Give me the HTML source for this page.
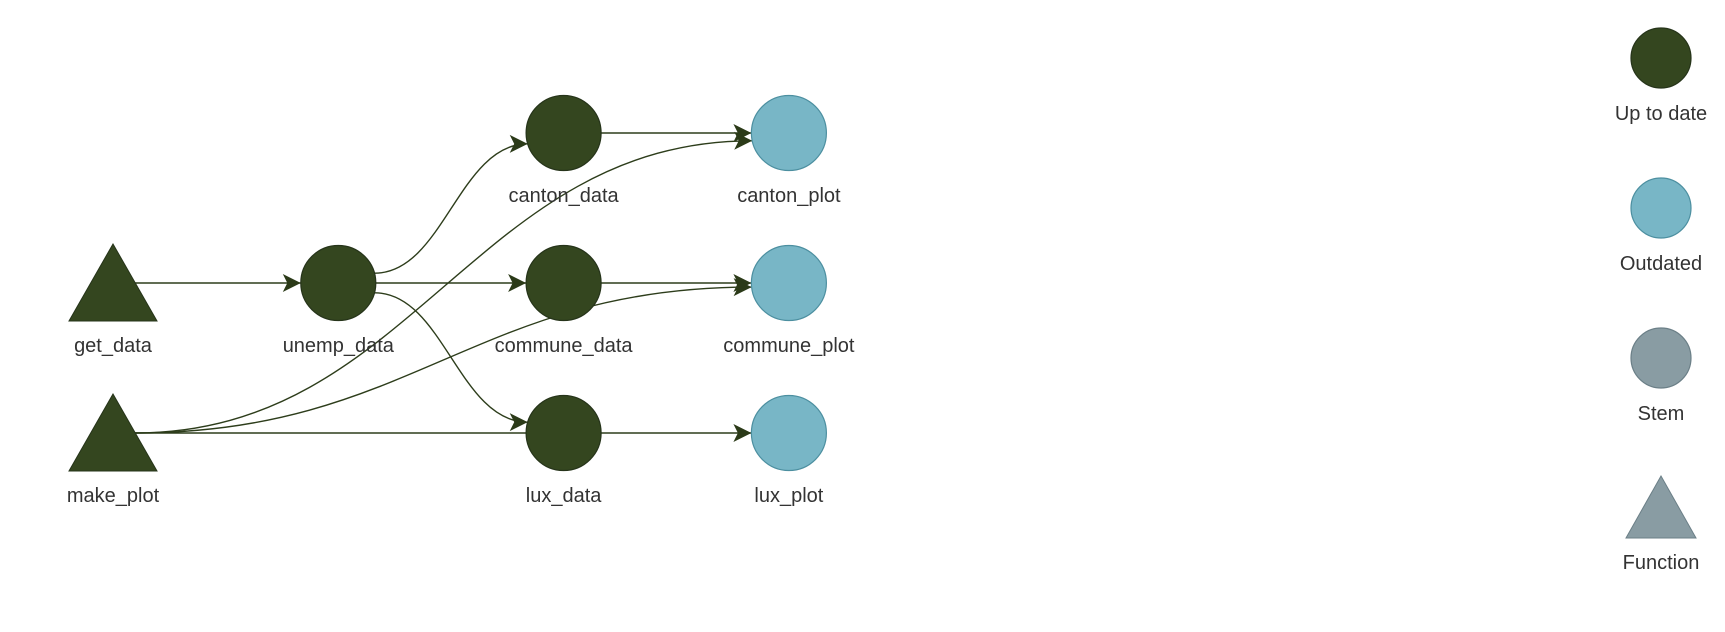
<!DOCTYPE html>
<html><head><meta charset="utf-8"><style>
html,body{margin:0;padding:0;background:#fff;}
svg{display:block;font-family:"Liberation Sans",sans-serif;}
text{fill:#333;font-size:20px;text-anchor:middle;}
</style></head><body>
<svg id="g" width="1725" height="632" viewBox="0 0 1725 632">
<defs><marker id="ah" viewBox="0 0 10 10" refX="10" refY="5" markerWidth="28" markerHeight="18" markerUnits="userSpaceOnUse" orient="auto" style="overflow:visible"><path d="M0,0 L10,5 L0,10 L2.5,5 z" fill="#2b3a18"/></marker></defs>
</svg>
<script>
const nodeNames=["get_data","make_plot","unemp_data","canton_data","commune_data","lux_data","canton_plot","commune_plot","lux_plot"];
const nodeCol=[0,0,1,2,2,2,3,3,3];
const nodeRow=[1,2,1,0,1,2,0,1,2];
const nodeShape=["triangle","triangle","circle","circle","circle","circle","circle","circle","circle"];
const nodeStatus=["up","up","up","up","up","up","out","out","out"];
const edgeFrom=["get_data","unemp_data","unemp_data","unemp_data","canton_data","commune_data","lux_data","make_plot","make_plot","make_plot"];
const edgeTo=["unemp_data","canton_data","commune_data","lux_data","canton_plot","commune_plot","lux_plot","canton_plot","commune_plot","lux_data"];
const edgeArrow=[1,1,1,1,1,1,1,1,1,0];
const legendLabels=["Up to date","Outdated","Stem","Function"];
const legendShapes=["circle","circle","circle","triangle"];
const legendStatus=["up","out","stem","stem"];

const svg=document.getElementById('g');
const NS="http://www.w3.org/2000/svg";
const fills={up:"#34461f",out:"#78b6c6",stem:"#899ca3"};
const strokes={up:"#26341a",out:"#4c8fa0",stem:"#6b7f87"};
const colX=c=>113+c*225.3;
const rowY=r=>133+r*150;
const R=37.5;
function mk(t,a){const e=document.createElementNS(NS,t);for(const k in a)e.setAttribute(k,a[k]);svg.appendChild(e);return e;}
const pos={};
nodeNames.forEach((n,i)=>{pos[n]={x:colX(nodeCol[i]),y:rowY(nodeRow[i]),s:nodeShape[i]};});
edgeFrom.forEach((f,i)=>{
  const a=pos[f],b=pos[edgeTo[i]];
  const sx=a.s==="triangle"?a.x+22:a.x+R*Math.cos(Math.atan2(b.y-a.y,b.x-a.x)*0.45);
  const sy=a.s==="triangle"?a.y:a.y+R*Math.sin(Math.atan2(b.y-a.y,b.x-a.x)*0.45);
  const ang=Math.atan2(b.y-a.y,b.x-a.x)*0.5;
  const ex=b.x-R*Math.cos(ang), ey=b.y-R*Math.sin(ang);
  let d;
  if(Math.abs(b.y-a.y)<1) d=`M${sx},${sy} L${b.x-R},${b.y}`;
  else {const dx=ex-sx;d=`M${sx},${sy} C${sx+dx*0.45},${sy} ${ex-dx*0.45},${ey} ${ex},${ey}`;}
  const p=mk('path',{d:d,fill:"none",stroke:"#2d3d1b","stroke-width":1.4});
  if(edgeArrow[i])p.setAttribute('marker-end','url(#ah)');
  
  
});
nodeNames.forEach((n,i)=>{
  const p=pos[n];let e;
  if(p.s==="triangle") e=mk('polygon',{points:`${p.x},${p.y-39} ${p.x-44},${p.y+38} ${p.x+44},${p.y+38}`,fill:fills[nodeStatus[i]],stroke:strokes[nodeStatus[i]],"stroke-width":1});
  else e=mk('circle',{cx:p.x,cy:p.y,r:R,fill:fills[nodeStatus[i]],stroke:strokes[nodeStatus[i]],"stroke-width":1.2});
  
  
  const t=mk('text',{x:p.x,y:p.y+69});t.textContent=n;
  
  
});
legendLabels.forEach((l,i)=>{
  const x=1661,y=58+i*150;let e;
  if(legendShapes[i]==="triangle") e=mk('polygon',{points:`${x},${y-32} ${x-35},${y+30} ${x+35},${y+30}`,fill:fills[legendStatus[i]],stroke:strokes[legendStatus[i]],"stroke-width":1});
  else e=mk('circle',{cx:x,cy:y,r:30,fill:fills[legendStatus[i]],stroke:strokes[legendStatus[i]],"stroke-width":1.2});
  
  
  const t=mk('text',{x:x,y:legendShapes[i]==="triangle"?y+61:y+62});t.textContent=l;
  
  
});
</script>
</body></html>
